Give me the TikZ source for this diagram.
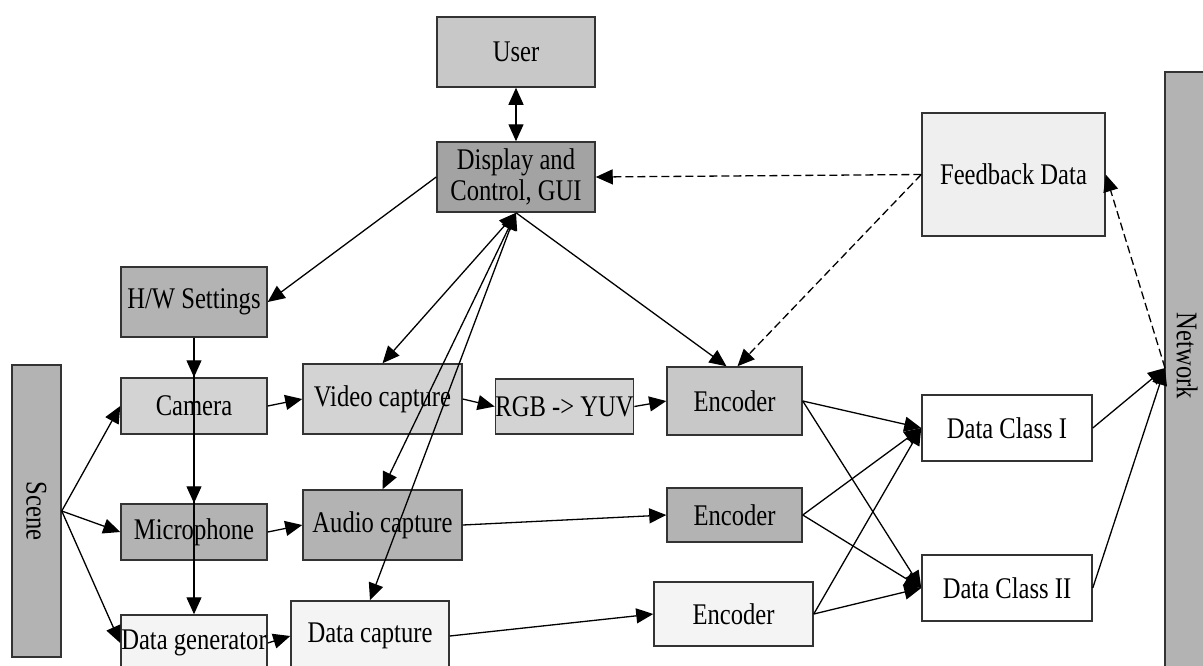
\documentclass[tikz,border=0pt]{standalone}
\usepackage{fontspec}
\setmainfont{Liberation Serif}[FakeStretch=0.82]
\usetikzlibrary{arrows.meta}

\definecolor{lightfill}{HTML}{D3D3D3}
\definecolor{midfill}{HTML}{B3B3B3}
\definecolor{darkfill}{HTML}{A3A3A3}
\definecolor{palefill}{HTML}{F4F4F4}

\begin{document}
\begin{tikzpicture}[x=1pt,y=-1pt,
        box/.style = {draw=black!80, line width=1.5pt, inner sep=0pt, align=center,
                      font=\fontsize{30}{31}\selectfont},
        arrow/.style = {line width=1.3pt, -{Triangle[length=17pt,width=15pt]}},
        dblarrow/.style = {line width=1.3pt,
                           {Triangle[length=17pt,width=15pt]}-{Triangle[length=17pt,width=15pt]}},
        dasharrow/.style = {arrow, dash pattern=on 8pt off 4pt}]
    \useasboundingbox (0,0) rectangle (1203,665);

    % top
    \node[box, fill=lightfill!95!black, minimum width=158pt, minimum height=70pt]
        (user) at (516,52) {User};
    \node[box, fill=darkfill, minimum width=158pt, minimum height=70pt]
        (disp) at (516,177) {Display and\\Control, GUI};
    \node[box, fill=palefill!98!black, minimum width=183pt, minimum height=123pt]
        (fb) at (1013.5,174.5) {Feedback Data};

    % left column
    \node[box, fill=midfill, minimum width=146pt, minimum height=70pt]
        (hw) at (194,302) {H/W Settings};
    \node[box, fill=midfill, minimum width=49pt, minimum height=292pt]
        (scene) at (36.5,511) {\rotatebox{-90}{Scene}};
    \node[box, fill=lightfill, minimum width=146pt, minimum height=56pt]
        (cam) at (194,406) {Camera};
    \node[box, fill=midfill, minimum width=146pt, minimum height=56pt]
        (mic) at (194,532) {Microphone};
    \node[box, fill=palefill, minimum width=146pt, minimum height=56pt]
        (gen) at (194,643) {Data generator};

    % capture
    \node[box, fill=lightfill, minimum width=159pt, minimum height=70pt]
        (video) at (382.5,399) {Video capture};
    \node[box, fill=lightfill, minimum width=135pt, minimum height=55pt]
        (rgb) at (564.5,406.5) {RGB -> YUV};
    \node[box, fill=midfill, minimum width=159pt, minimum height=70pt]
        (audio) at (382.5,525) {Audio capture};
    \node[box, fill=palefill, minimum width=158pt, minimum height=70pt]
        (dcap) at (370,636) {Data capture};

    % encoders
    \node[box, fill=lightfill!95!black, minimum width=135pt, minimum height=68pt]
        (enc1) at (734.5,401) {Encoder};
    \node[box, fill=midfill, minimum width=135pt, minimum height=54pt]
        (enc2) at (734.5,515) {Encoder};
    \node[box, fill=palefill, minimum width=159pt, minimum height=64pt]
        (enc3) at (733.5,614) {Encoder};

    % classes and network
    \node[box, fill=white, minimum width=170pt, minimum height=66pt]
        (dc1) at (1007,428) {Data Class I};
    \node[box, fill=white, minimum width=170pt, minimum height=66pt]
        (dc2) at (1007,588) {Data Class II};
    \node[box, fill=midfill, minimum width=46pt, minimum height=628pt]
        (net) at (1188,386) {};
    \node[font=\fontsize{30}{31}\selectfont, inner sep=0pt]
        (netlabel) at (1187,356) {\rotatebox{-90}{Network}};
    \coordinate (netin) at (1165,368);

    % connectors
    \draw[dblarrow] (user) -- (disp);
    \draw[arrow] (disp.west) -- (hw.east);
    \draw[arrow] (hw.south) -- (cam.north);
    \draw[arrow] (hw.south) -- (mic.north);
    \draw[arrow] (hw.south) -- (gen.north);
    \draw[arrow] (scene.east) -- (cam.west);
    \draw[arrow] (scene.east) -- (mic.west);
    \draw[arrow] (scene.east) -- (gen.west);
    \draw[arrow] (cam.east) -- (video.west);
    \draw[arrow] (mic.east) -- (audio.west);
    \draw[arrow] (gen.east) -- (dcap.west);
    \draw[dblarrow] (disp.south) -- (video.north);
    \draw[dblarrow] (disp.south) -- (audio.north);
    \draw[dblarrow] (disp.south) -- (dcap.north);
    \draw[arrow] (video.east) -- (rgb.west);
    \draw[arrow] (rgb.east) -- (enc1.west);
    \draw[arrow] (audio.east) -- (enc2.west);
    \draw[arrow] (dcap.east) -- (enc3.west);
    \draw[arrow] (disp.south) -- ([xshift=-8pt]enc1.north);
    \draw[dasharrow] (fb.west) -- (disp.east);
    \draw[dasharrow] (fb.west) -- ([xshift=3pt]enc1.north);
    \draw[dasharrow] (netin) -- (fb.east);
    \foreach \src in {enc1,enc2,enc3}{
        \draw[arrow] (\src.east) -- (dc1.west);
        \draw[arrow] (\src.east) -- (dc2.west);
    }
    \draw[arrow] (dc1.east) -- (netin);
    \draw[arrow] (dc2.east) -- (netin);
\end{tikzpicture}
\end{document}
